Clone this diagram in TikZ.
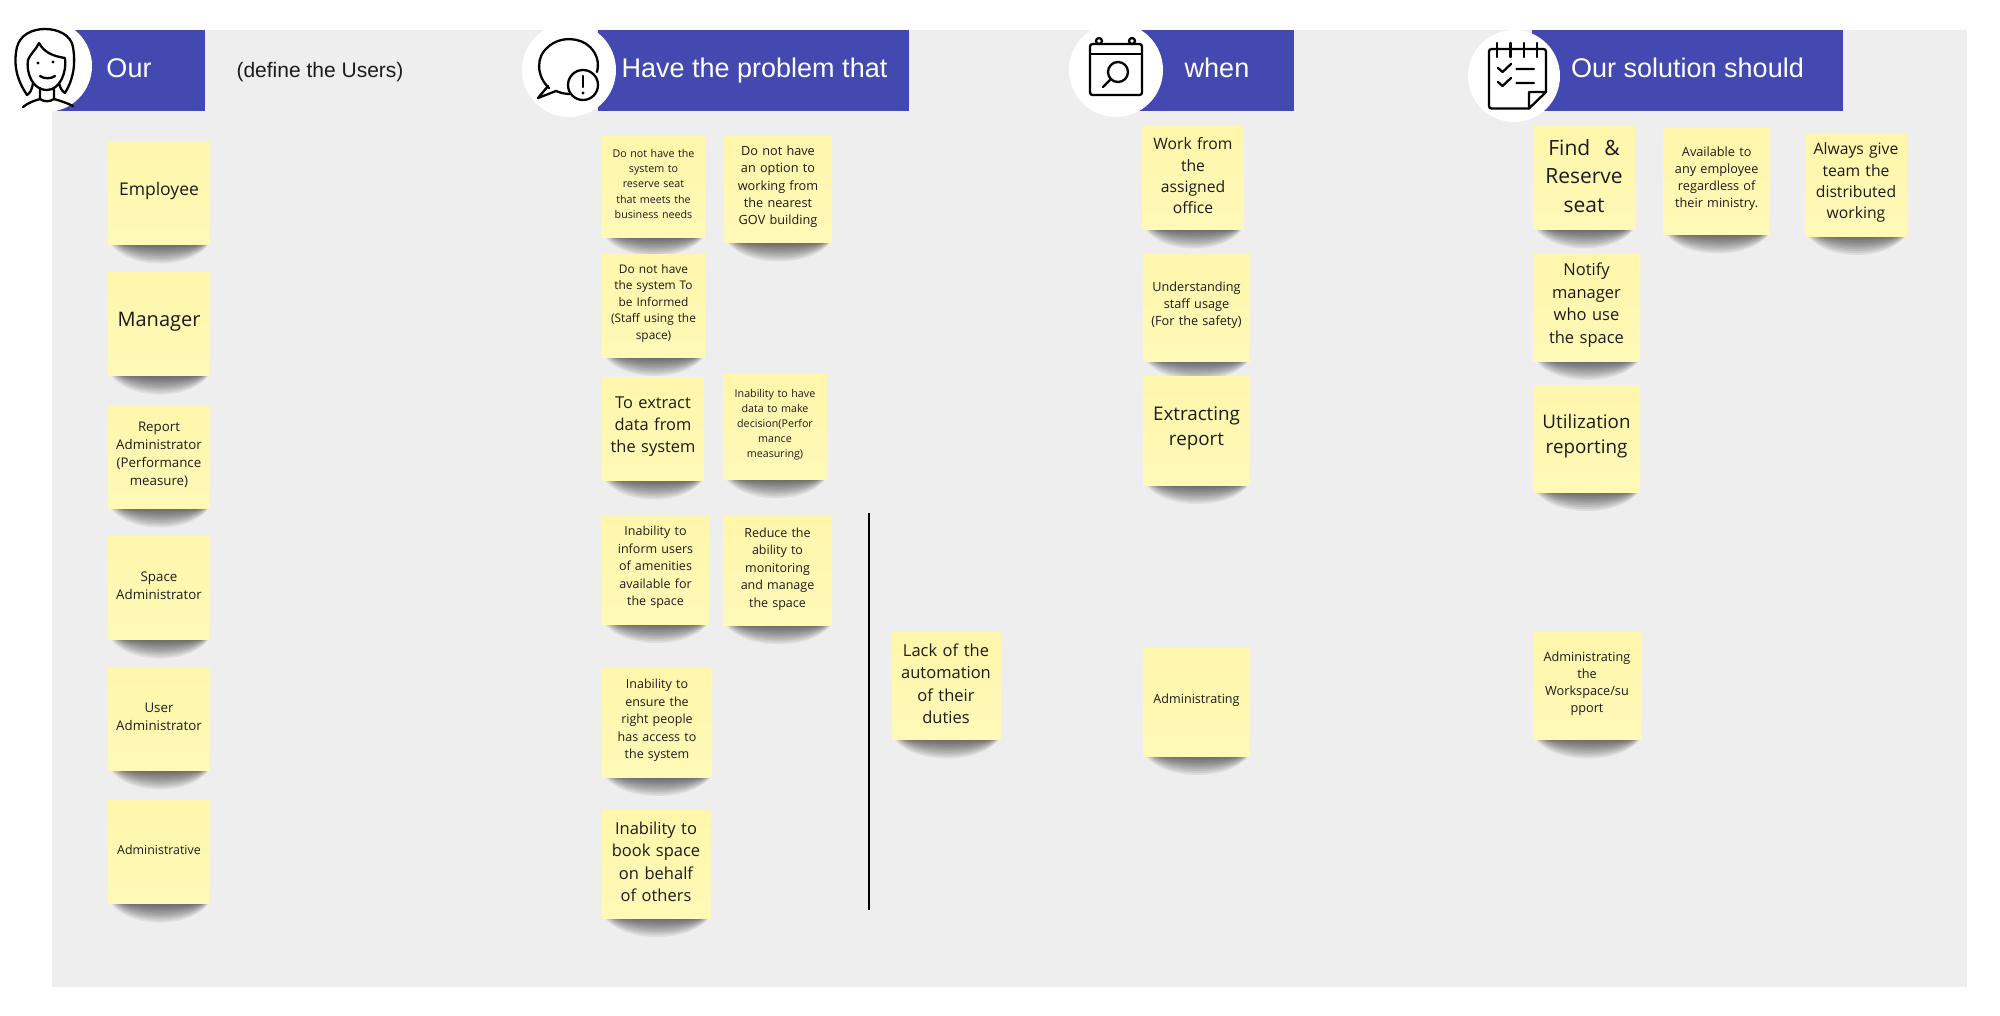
\documentclass[tikz,border=0pt]{standalone}
\usepackage{xcolor}
\usepackage{fontspec}
\setmainfont{Liberation Sans}
\newfontfamily\stickyfont{Open Sans}
\definecolor{panelgrey}{HTML}{EEEEEE}
\definecolor{bandblue}{HTML}{4349B0}
\definecolor{stickytop}{HTML}{FEF6AA}
\definecolor{stickybottom}{HTML}{FFF9B8}
\definecolor{stickyink}{HTML}{1C1C1C}
\newcommand{\stickyend}{\endgraf\vspace{4.5pt}}
\newcommand{\stickyshadow}{%
  \foreach \d/\l/\r in {2.5/16/9, 5/14.6/8.2, 7.5/13.2/7.4, 10/11.8/6.6, 12.5/10.4/5.8,
      15/9/5, 17.5/7.6/4.2, 20/6.2/3.4, 22.5/4.8/2.6, 25/3.4/1.8}{
    \fill[black, fill opacity=.07] ([xshift=\l pt]\tikzlastnode.south west)
      .. controls ([xshift=\l pt+20pt, yshift=-\d pt]\tikzlastnode.south west)
      and ([xshift=-\r pt-20pt, yshift=-\d pt]\tikzlastnode.south east)
      .. ([xshift=-\r pt]\tikzlastnode.south east) -- cycle;
  }}

\begin{document}
\begin{tikzpicture}[
  x=1pt, y=-1pt,
  band/.style={rectangle, fill=bandblue, inner sep=0pt, minimum height=81pt, anchor=north west},
  badge/.style={circle, fill=white, inner sep=0pt, minimum size=#1*2pt},
  bandtext/.style={font=\fontsize{27}{32}\selectfont, text=white, inner sep=0pt, text height=22pt, text depth=4pt},
  icon/.style={draw=black, line width=2.3pt, line cap=round, line join=round},
  sticky/.style n args={3}{rectangle, top color=stickytop, bottom color=stickybottom, inner xsep=1pt, inner ysep=0pt,
    minimum width=#1pt, minimum height=#2pt, text width=#1pt-2pt, align=center,
    text=stickyink, font=\stickyfont\fontsize{#3}{\dimexpr #3pt*136/100\relax}\selectfont,
    execute at end node=\stickyend,
    append after command={\pgfextra{\stickyshadow}}},
  stickytext/.style 2 args={font=\stickyfont\fontsize{#1}{#2}\selectfont}
]
  \useasboundingbox (0,0) rectangle (2000,1015);
  \fill[panelgrey] (52,30) rectangle (1967,987);

  % Our
  \node[band, minimum width=153pt] (ourband) at (52,30) {};
  \node[badge=46] (ourbadge) at (46,66) {};
  \draw[icon] (33,83) .. controls (32,90) and (30,93) .. (27,95)
    .. controls (17,80) and (13,65) .. (17,47) .. controls (20,35) and (32,29) .. (45,29)
    .. controls (58,29) and (71,35) .. (73,47) .. controls (76,65) and (73,80) .. (65,93)
    .. controls (62,91) and (60,88) .. (59,83);
  \draw[icon] (65,58) .. controls (52,56) and (44,52) .. (39,43)
    .. controls (36,50) and (30,54) .. (28,60) .. controls (26,72) and (32,90) .. (47,90)
    .. controls (60,90) and (67,72) .. (65,58);
  \fill (38,63) circle (1.6pt) (53,62) circle (1.6pt);
  \draw[icon] (40,76) .. controls (44,79) and (51,79) .. (55,76);
  \draw[icon] (40,88) -- (40,99) .. controls (44,102) and (50,102) .. (54,99) -- (54,88);
  \draw[icon] (23,107) .. controls (28,103) and (33,101) .. (40,99);
  \draw[icon] (54,99) .. controls (61,101) and (67,103) .. (73,106);
  \node[bandtext] (ourtext) at (129,68) {Our};
  \node[font=\fontsize{21}{25}\selectfont, text=stickyink, inner sep=0pt] (defineusers) at (320,72.5) {(define the Users)};

  % Have the problem that
  \node[band, minimum width=311pt] (problemband) at (598,30) {};
  \node[badge=47] (problembadge) at (569,70) {};
  \draw[icon] (549,88) .. controls (536,76) and (536,56) .. (548,47)
    .. controls (560,36) and (580,37) .. (590,47) .. controls (598,55) and (599,64) .. (597,72);
  \draw[icon] (548,86) -- (538,98) -- (556,91) .. controls (561,93) and (565,94) .. (570,94);
  \draw[icon, fill=white] (583,85) circle (15pt);
  \draw[icon] (583,76) -- (583,87);
  \fill (583,93) circle (1.6pt);
  \node[bandtext] (problemtext) at (754.5,68) {Have the problem that};

  % when
  \node[band, minimum width=155pt] (whenband) at (1139,30) {};
  \node[badge=47] (whenbadge) at (1116,70) {};
  \draw[icon, rounded corners=2.5pt] (1090,44) rectangle (1142,95);
  \draw[icon] (1090,54) -- (1142,54);
  \draw[icon] (1099,41) circle (3pt) (1132,41) circle (3pt);
  \draw[icon] (1118,72) circle (10pt);
  \draw[icon] (1111,79) -- (1103,87);
  \node[bandtext] (whentext) at (1217,68) {when};

  % Our solution should
  \node[band, minimum width=311pt] (solutionband) at (1532,30) {};
  \node[badge=46] (solutionbadge) at (1514,76) {};
  \draw[icon, rounded corners=2.5pt] (1529,108.5) -- (1489,108.5) -- (1489,49) -- (1546,49) -- (1546,92);
  \draw[icon] (1546,92) -- (1529,108.5) -- (1529,92) -- cycle;
  \draw[icon] (1497,43) -- (1497,57) (1510.5,43) -- (1510.5,57) (1524,43) -- (1524,57) (1537,43) -- (1537,57);
  \draw[icon] (1498,68) -- (1502.5,72) -- (1511,64) (1516.5,69) -- (1534,69);
  \draw[icon] (1498,82) -- (1502.5,86) -- (1511,78) (1516.5,83) -- (1534,83);
  \node[bandtext] (solutiontext) at (1687.5,68) {Our solution should};

  % Users
  \node[sticky={102}{103}{17.5}] (employee) at (159,193) {Employee};
  \node[sticky={102}{103}{20}] (manager) at (159,324) {Manager};
  \node[sticky={102}{103}{13.3}] (reportadmin) at (159,457) {Report\\Administrator\\(Performance\\measure)};
  \node[sticky={102}{103}{13.3}] (spaceadmin) at (159,588) {Space\\Administrator};
  \node[sticky={102}{103}{13.3}] (useradmin) at (159,719) {User\\Administrator};
  \node[sticky={102}{103}{12.4}] (administrative) at (159,852) {Administrative};

  % Problems
  \node[sticky={103}{102}{10.7}, stickytext={10.7}{15.3}] (noreserve) at (653.5,186) {Do not have the\\system to\\reserve seat\\that meets the\\business needs};
  \node[sticky={107}{107}{12.7}] (nooption) at (778,189) {Do not have\\an option to\\working from\\the nearest\\GOV building};
  \node[sticky={103}{103}{11.9}, stickytext={11.9}{16.6}] (noinform) at (653.5,305.5) {Do not have\\the system To\\be Informed\\(Staff using the\\space)};
  \node[sticky={102}{103}{16.4}] (extractdata) at (653,429) {To extract\\data from\\the system};
  \node[sticky={103.5}{104.5}{10.7}, stickytext={10.7}{15}] (nodecision) at (775,427) {Inability to have\\data to make\\decision(Perfor\\mance\\measuring)};
  \node[sticky={107}{109}{12.5}, stickytext={12.5}{17.5}] (noamenities) at (655.5,569.5) {Inability to\\inform users\\of amenities\\available for\\the space};
  \node[sticky={109}{108.5}{12.5}, stickytext={12.5}{17.5}] (nomonitor) at (777.5,571) {Reduce the\\ability to\\monitoring\\and manage\\the space};
  \node[sticky={110}{109}{12.5}, stickytext={12.5}{17.5}] (noaccess) at (657,722.5) {Inability to\\ensure the\\right people\\has access to\\the system};
  \node[sticky={108.5}{108}{16.5}] (nobehalf) at (656,864) {Inability to\\book space\\on behalf\\of others};
  \coordinate (dividertop) at (869,513);
  \coordinate (dividerbottom) at (869,909.5);
  \draw[line width=1.6pt, black] (dividertop) -- (dividerbottom);
  \node[sticky={108.5}{107}{16.5}] (noautomation) at (946,686) {Lack of the\\automation\\of their\\duties};

  % When
  \node[sticky={101}{103}{15.7}] (workoffice) at (1193,178) {Work from\\the\\assigned\\office};
  \node[sticky={107}{107}{12.7}] (staffusage) at (1196.5,307.5) {Understanding\\staff usage\\(For the safety)};
  \node[sticky={107}{109}{18.8}] (extracting) at (1196.5,430.5) {Extracting\\report};
  \node[sticky={107}{108}{12.6}] (administrating) at (1196.5,702) {Administrating};

  % Solution
  \node[sticky={102}{103}{21}] (findseat) at (1584,178) {Find~~\&\\Reserve\\seat};
  \node[sticky={107}{107}{12.7}] (available) at (1716.7,181) {Available to\\any employee\\regardless of\\their ministry.};
  \node[sticky={102}{102}{15.7}] (alwaysgive) at (1856,185) {Always give\\team the\\distributed\\working};
  \node[sticky={107}{107}{16.5}] (notify) at (1586.5,307.5) {Notify\\manager\\who use\\the space};
  \node[sticky={107}{107}{18.8}] (utilization) at (1586.5,438.5) {Utilization\\reporting};
  \node[sticky={108.5}{107}{12.7}] (adminsupport) at (1587,686) {Administrating\\the\\Workspace/su\\pport};
\end{tikzpicture}
\end{document}
